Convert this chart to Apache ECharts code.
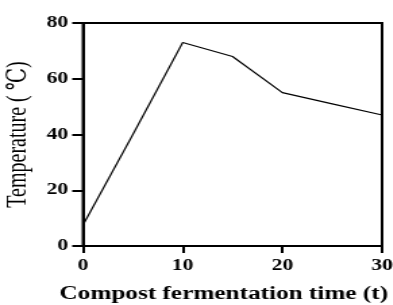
<!DOCTYPE html>
<html>
<head>
<meta charset="utf-8">
<script src="https://cdn.jsdelivr.net/npm/echarts@6/dist/echarts.min.js"></script>
<style>
  html, body { margin: 0; padding: 0; background: #fff; overflow: hidden; }
  /* the reference is stretched sideways, so draw narrow and widen */
  #content { width: 291px; height: 305px; transform: scaleX(1.35); transform-origin: 0 0; }
</style>
</head>
<body>
<div id="content"></div>
<script>
// data
const days = [0, 5, 10, 15, 20, 25, 30]
const temps = [7.5, 40, 73, 68, 55, 51, 47]
const xTicks = [0, 30, 10]   // min, max, interval
const yTicks = [0, 80, 20]

const points = []
for (const i in days) {
  points.push([days[i], temps[i]])
}

const font = '"Liberation Serif", "DejaVu Serif", serif'
const myChart = echarts.init(document.querySelector('#content'))
myChart.setOption({
  animation: false,
  grid: {
    left: 61.5,
    right: 8,
    top: 23,
    bottom: 59,
    outerBoundsMode: 'none',
    containLabel: false,
    show: true,
    borderColor: '#000',
    borderWidth: 2
  },
  xAxis: {
    type: 'value',
    min: xTicks[0],
    max: xTicks[1],
    interval: xTicks[2],
    name: 'Compost fermentation time (t)',
    nameLocation: 'middle',
    nameGap: 39,
    nameTextStyle: {fontFamily: font, fontWeight: 'bold', fontSize: 18.7, color: '#000', padding: [0, 13, 0, 0]},
    axisLine: {lineStyle: {color: '#000', width: 2}},
    axisTick: {length: 7, lineStyle: {color: '#000', width: 2}},
    axisLabel: {fontFamily: font, fontWeight: 'bold', fontSize: 16, color: '#000', margin: 12},
    splitLine: {show: false}
  },
  yAxis: {
    type: 'value',
    min: yTicks[0],
    max: yTicks[1],
    interval: yTicks[2],
    name: 'Temperature ( ℃)',
    nameLocation: 'middle',
    nameGap: 32.5,
    nameTextStyle: {fontFamily: font, fontSize: 20, color: '#000'},
    axisLine: {lineStyle: {color: '#000', width: 2}},
    axisTick: {length: 8, lineStyle: {color: '#000', width: 2}},
    axisLabel: {fontFamily: font, fontWeight: 'bold', fontSize: 16, color: '#000', margin: 11},
    splitLine: {show: false}
  },
  series: [
    {
      type: 'line',
      data: points,
      showSymbol: false,
      lineStyle: {color: '#000', width: 1.2}
    }
  ]
})
</script>
</body>
</html>
